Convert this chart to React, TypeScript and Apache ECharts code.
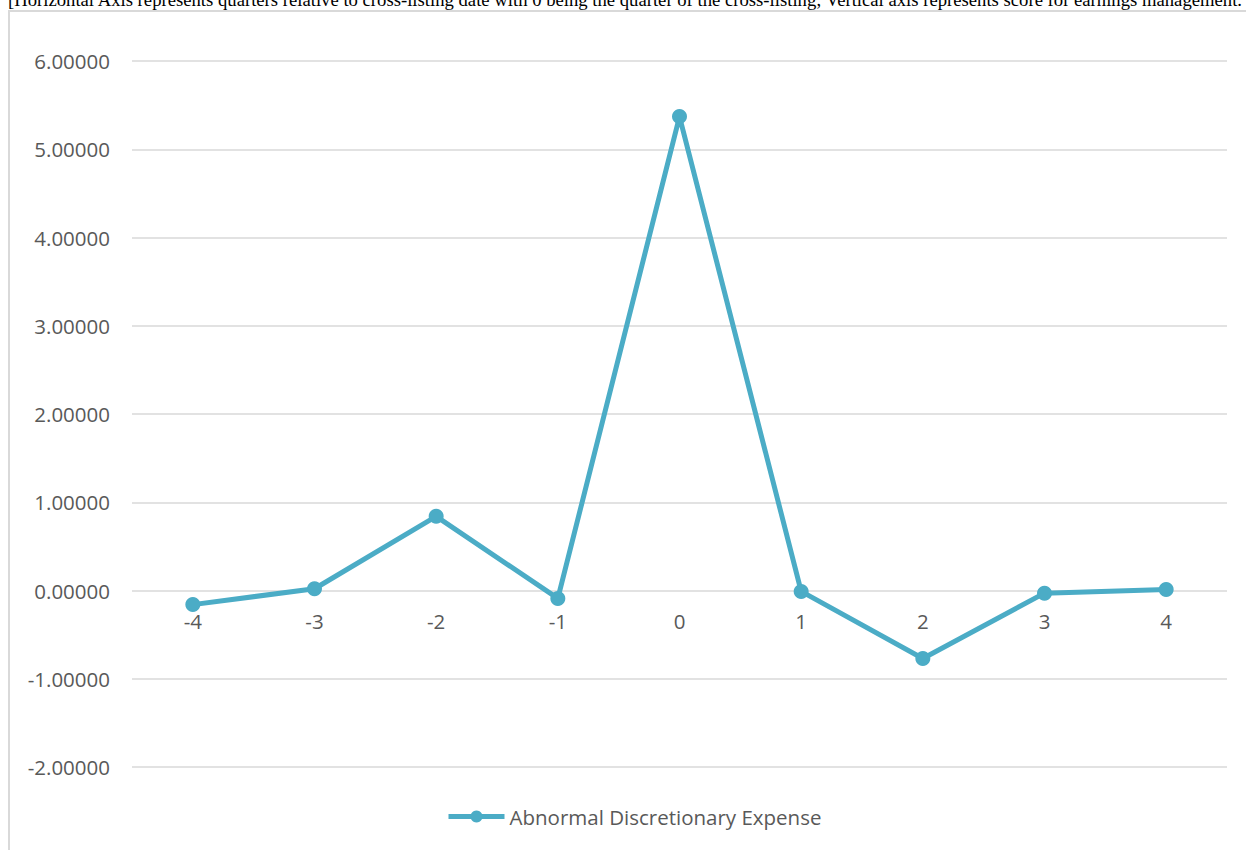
import React, { useEffect, useRef } from "react";
import * as echarts from "echarts";

const categories = ["-4", "-3", "-2", "-1", "0", "1", "2", "3", "4"];
const seriesName = "Abnormal Discretionary Expense";
const values = [-0.16, 0.02, 0.84, -0.09, 5.37, -0.01, -0.77, -0.03, 0.01];
const yTicks = { min: -2, max: 6, interval: 1 };
const caption =
  "[Horizontal Axis represents quarters relative to cross-listing date with 0 being the quarter of the cross-listing; Vertical axis represents score for earnings management.";

const FONT = "'Open Sans', sans-serif";
const COLOR = "#4bacc6";
const CAPTION_WIDTH = 1234;

export default function App() {
  const ref = useRef<HTMLDivElement>(null);
  const capRef = useRef<HTMLSpanElement>(null);
  useEffect(() => {
    if (capRef.current) {
      const w = capRef.current.getBoundingClientRect().width;
      if (w > 0) {
        capRef.current.style.transform = `scaleX(${CAPTION_WIDTH / w})`;
      }
    }
    if (!ref.current) return;
    const chart = echarts.init(ref.current, undefined, { renderer: "svg" });
    const gridTop = 61;
    const gridBottom = 83;
    const plotH = 850 - gridTop - gridBottom;
    // place the category axis on the zero line of the value axis
    const zeroOffset = -plotH * (0 - yTicks.min) / (yTicks.max - yTicks.min);
    chart.setOption({
      animation: false,
      grid: { left: 132, right: 19, top: gridTop, bottom: gridBottom },
      legend: {
        top: 801,
        left: 441,
        itemWidth: 56,
        itemHeight: 15,
        lineStyle: { width: 5 },
        textStyle: { fontFamily: FONT, fontSize: 20.5, color: "#595959" },
        data: [seriesName],
      },
      xAxis: {
        type: "category",
        data: categories,
        boundaryGap: true,
        offset: zeroOffset,
        axisLine: { show: false, onZero: false },
        axisTick: { show: false },
        axisLabel: { fontFamily: FONT, fontSize: 20.5, color: "#595959", margin: 20 },
      },
      yAxis: {
        type: "value",
        min: yTicks.min,
        max: yTicks.max,
        interval: yTicks.interval,
        axisLine: { show: false },
        axisTick: { show: false },
        splitLine: { lineStyle: { color: "#d9d9d9", width: 1.5 } },
        axisLabel: {
          fontFamily: FONT,
          fontSize: 20.5,
          color: "#595959",
          margin: 22,
          formatter: (v: number) => v.toFixed(5),
        },
      },
      series: [
        {
          name: seriesName,
          type: "line",
          data: values,
          symbol: "circle",
          symbolSize: 15,
          lineStyle: { color: COLOR, width: 5 },
          itemStyle: { color: COLOR },
        },
      ],
    });
    return () => chart.dispose();
  }, []);

  return (
    <div style={{ position: "absolute", left: 0, top: 0, width: 1246, height: 850, overflow: "hidden", background: "#fff" }}>
      <span
        ref={capRef}
        style={{
          position: "absolute",
          left: 8,
          top: -10,
          display: "inline-block",
          whiteSpace: "nowrap",
          fontFamily: "'Liberation Serif', 'Times New Roman', serif",
          fontSize: 18.5,
          lineHeight: "21px",
          color: "#000",
          transformOrigin: "0 0",
        }}
      >
        {caption}
      </span>
      <div
        style={{
          position: "absolute",
          left: 8,
          top: 10,
          width: 1300,
          height: 900,
          border: "2px solid #d9d9d9",
          boxSizing: "border-box",
        }}
      />
      <div ref={ref} style={{ position: "absolute", left: 0, top: 0, width: 1246, height: 850 }} />
    </div>
  );
}
